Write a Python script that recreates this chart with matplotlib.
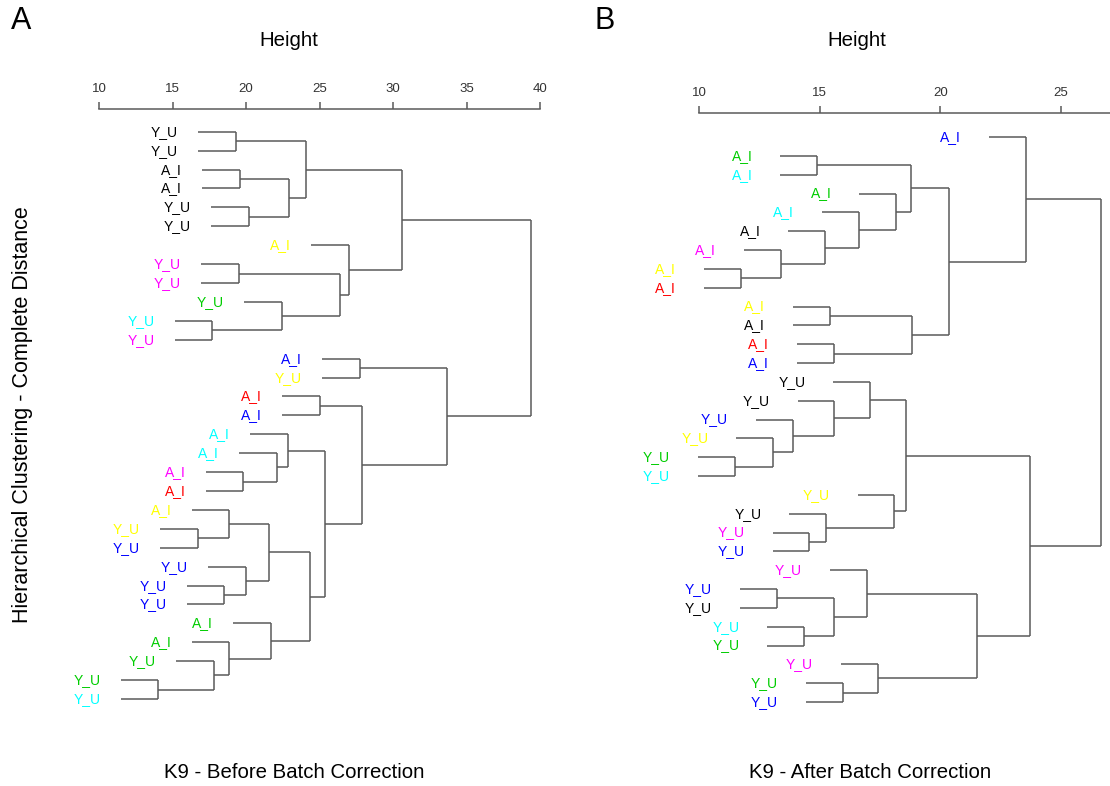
import matplotlib
matplotlib.use("Agg")
import matplotlib.pyplot as plt

plt.rcParams['font.family'] = ['Liberation Sans', 'DejaVu Sans']

# ---------------- colour codes ----------------
COL = {'k': '#000000', 'y': '#FFFF00', 'm': '#FF00FF', 'g': '#00CD00',
       'c': '#00FFFF', 'b': '#0000FF', 'r': '#FF0000'}

# ---------------- Panel A: before batch correction ----------------
labels_a = ['Y_U', 'Y_U', 'A_I', 'A_I', 'Y_U', 'Y_U', 'A_I', 'Y_U', 'Y_U', 'Y_U', 'Y_U',
            'Y_U', 'A_I', 'Y_U', 'A_I', 'A_I', 'A_I', 'A_I', 'A_I', 'A_I', 'A_I', 'Y_U',
            'Y_U', 'Y_U', 'Y_U', 'Y_U', 'A_I', 'A_I', 'Y_U', 'Y_U', 'Y_U']
colors_a = ['k', 'k', 'k', 'k', 'k', 'k', 'y', 'm', 'm', 'g', 'c',
            'm', 'b', 'y', 'r', 'b', 'c', 'c', 'm', 'r', 'y', 'y',
            'b', 'b', 'b', 'b', 'g', 'g', 'g', 'g', 'c']
# merges: (child1, child2, height); ids >= 31 refer to earlier merges
merges_a = [(0, 1, 19.30), (2, 3, 19.57), (4, 5, 20.20), (32, 33, 22.90), (31, 34, 24.06),
            (7, 8, 19.50), (10, 11, 17.71), (9, 37, 22.43), (36, 38, 26.39), (6, 39, 26.98),
            (35, 40, 30.61), (12, 13, 27.73), (14, 15, 25.01), (18, 19, 19.82), (17, 44, 22.09),
            (16, 45, 22.84), (21, 22, 16.71), (20, 47, 18.87), (24, 25, 18.53), (23, 49, 20.00),
            (48, 50, 21.56), (29, 30, 14.04), (28, 52, 17.82), (27, 53, 18.87), (26, 54, 21.68),
            (51, 55, 24.38), (46, 56, 25.37), (43, 57, 27.89), (42, 58, 33.65), (41, 59, 39.39)]
ticks_a = [10, 15, 20, 25, 30, 35, 40]
hang_a = 2.57

# ---------------- Panel B: after batch correction ----------------
labels_b = ['A_I'] * 13 + ['Y_U'] * 18
colors_b = ['b', 'g', 'c', 'g', 'c', 'k', 'm', 'y', 'r', 'y', 'k', 'r', 'b',
            'k', 'k', 'b', 'y', 'g', 'c', 'y', 'k', 'm', 'b', 'm', 'b', 'k', 'c', 'g',
            'm', 'g', 'b']
merges_b = [(1, 2, 14.90), (7, 8, 11.72), (6, 32, 13.38), (5, 33, 15.23), (4, 34, 16.61),
            (3, 35, 18.18), (31, 36, 18.79), (9, 10, 15.41), (11, 12, 15.58), (38, 39, 18.83),
            (37, 40, 20.35), (0, 41, 23.55), (17, 18, 11.48), (16, 43, 13.07), (15, 44, 13.89),
            (14, 45, 15.61), (13, 46, 17.10), (21, 22, 14.57), (20, 48, 15.27), (19, 49, 18.10),
            (47, 50, 18.58), (24, 25, 13.23), (26, 27, 14.36), (52, 53, 15.61), (23, 54, 16.96),
            (29, 30, 15.95), (28, 56, 17.41), (55, 57, 21.54), (51, 58, 23.74), (42, 59, 26.68)]
ticks_b = [10, 15, 20, 25]
hang_b = 1.53

W, H = 1110, 786
fig = plt.figure(figsize=(W / 100, H / 100), dpi=100)


def px_axes(left, right, top, bottom):
    return fig.add_axes([left / W, 1 - bottom / H, (right - left) / W, (bottom - top) / H])


LINE = '#5a5a5a'


def draw_dendro(ax, labels, colors, merges, hang, gap_pt, xlim, ticks, bounds, outward):
    n = len(labels)
    ypos = {i: float(i) for i in range(n)}
    hts = {}
    for k, (a, b, h) in enumerate(merges):
        nid = n + k
        for c in (a, b):
            ch = hts[c] if c >= n else h - hang
            ax.plot([ch, h], [ypos[c], ypos[c]], color=LINE, lw=1.1,
                    solid_capstyle='butt', clip_on=False)
            if c < n:
                hts[c] = ch
        ax.plot([h, h], [ypos[a], ypos[b]], color=LINE, lw=1.1,
                solid_capstyle='butt', clip_on=False)
        ypos[nid] = (ypos[a] + ypos[b]) / 2
        hts[nid] = h
    for i in range(n):
        ax.annotate(labels[i], xy=(hts[i], i), xytext=(-gap_pt, 0), textcoords='offset points',
                    ha='right', va='center', fontsize=10, color=COL[colors[i]],
                    annotation_clip=False)
    ax.set_xlim(*xlim)
    ax.set_ylim(n - 1, 0)
    for s in ('left', 'right', 'bottom'):
        ax.spines[s].set_visible(False)
    ax.spines['top'].set_position(('outward', outward))
    ax.spines['top'].set_bounds(*bounds)
    ax.spines['top'].set_color(LINE)
    ax.spines['top'].set_linewidth(1.1)
    ax.xaxis.set_ticks_position('top')
    ax.set_xticks(ticks)
    ax.set_xticklabels([str(t) for t in ticks])
    ax.tick_params(axis='x', direction='out', length=5, width=1.1, color=LINE,
                   labelsize=9.5, labelcolor='#333333', pad=5)
    ax.set_yticks([])
    ax.patch.set_visible(False)


axA = px_axes(99, 540, 131.7, 699)
draw_dendro(axA, labels_a, colors_a, merges_a, hang_a, 14.4, (10, 40), ticks_a, (10, 40), 16.3)

xmax_b = 10 + (1110 - 699.3) / 24.09
axB = px_axes(699.3, 1110, 137, 702)
draw_dendro(axB, labels_b, colors_b, merges_b, hang_b, 20.2, (10, xmax_b), ticks_b, (10, xmax_b), 17.3)


def ftext(x, y, s, **kw):
    fig.text(x / W, 1 - y / H, s, ha='center', va='center', **kw)


ftext(21, 21, 'A', fontsize=22)
ftext(605, 21, 'B', fontsize=22)
ftext(289, 40, 'Height', fontsize=14.7)
ftext(857, 40, 'Height', fontsize=14.7)
ftext(23, 415, 'Hierarchical Clustering - Complete Distance', fontsize=15.5, rotation=90)
ftext(294, 772, 'K9 - Before Batch Correction', fontsize=14.7)
ftext(870, 772, 'K9 - After Batch Correction', fontsize=14.7)

fig.savefig('out.png', dpi=100)
